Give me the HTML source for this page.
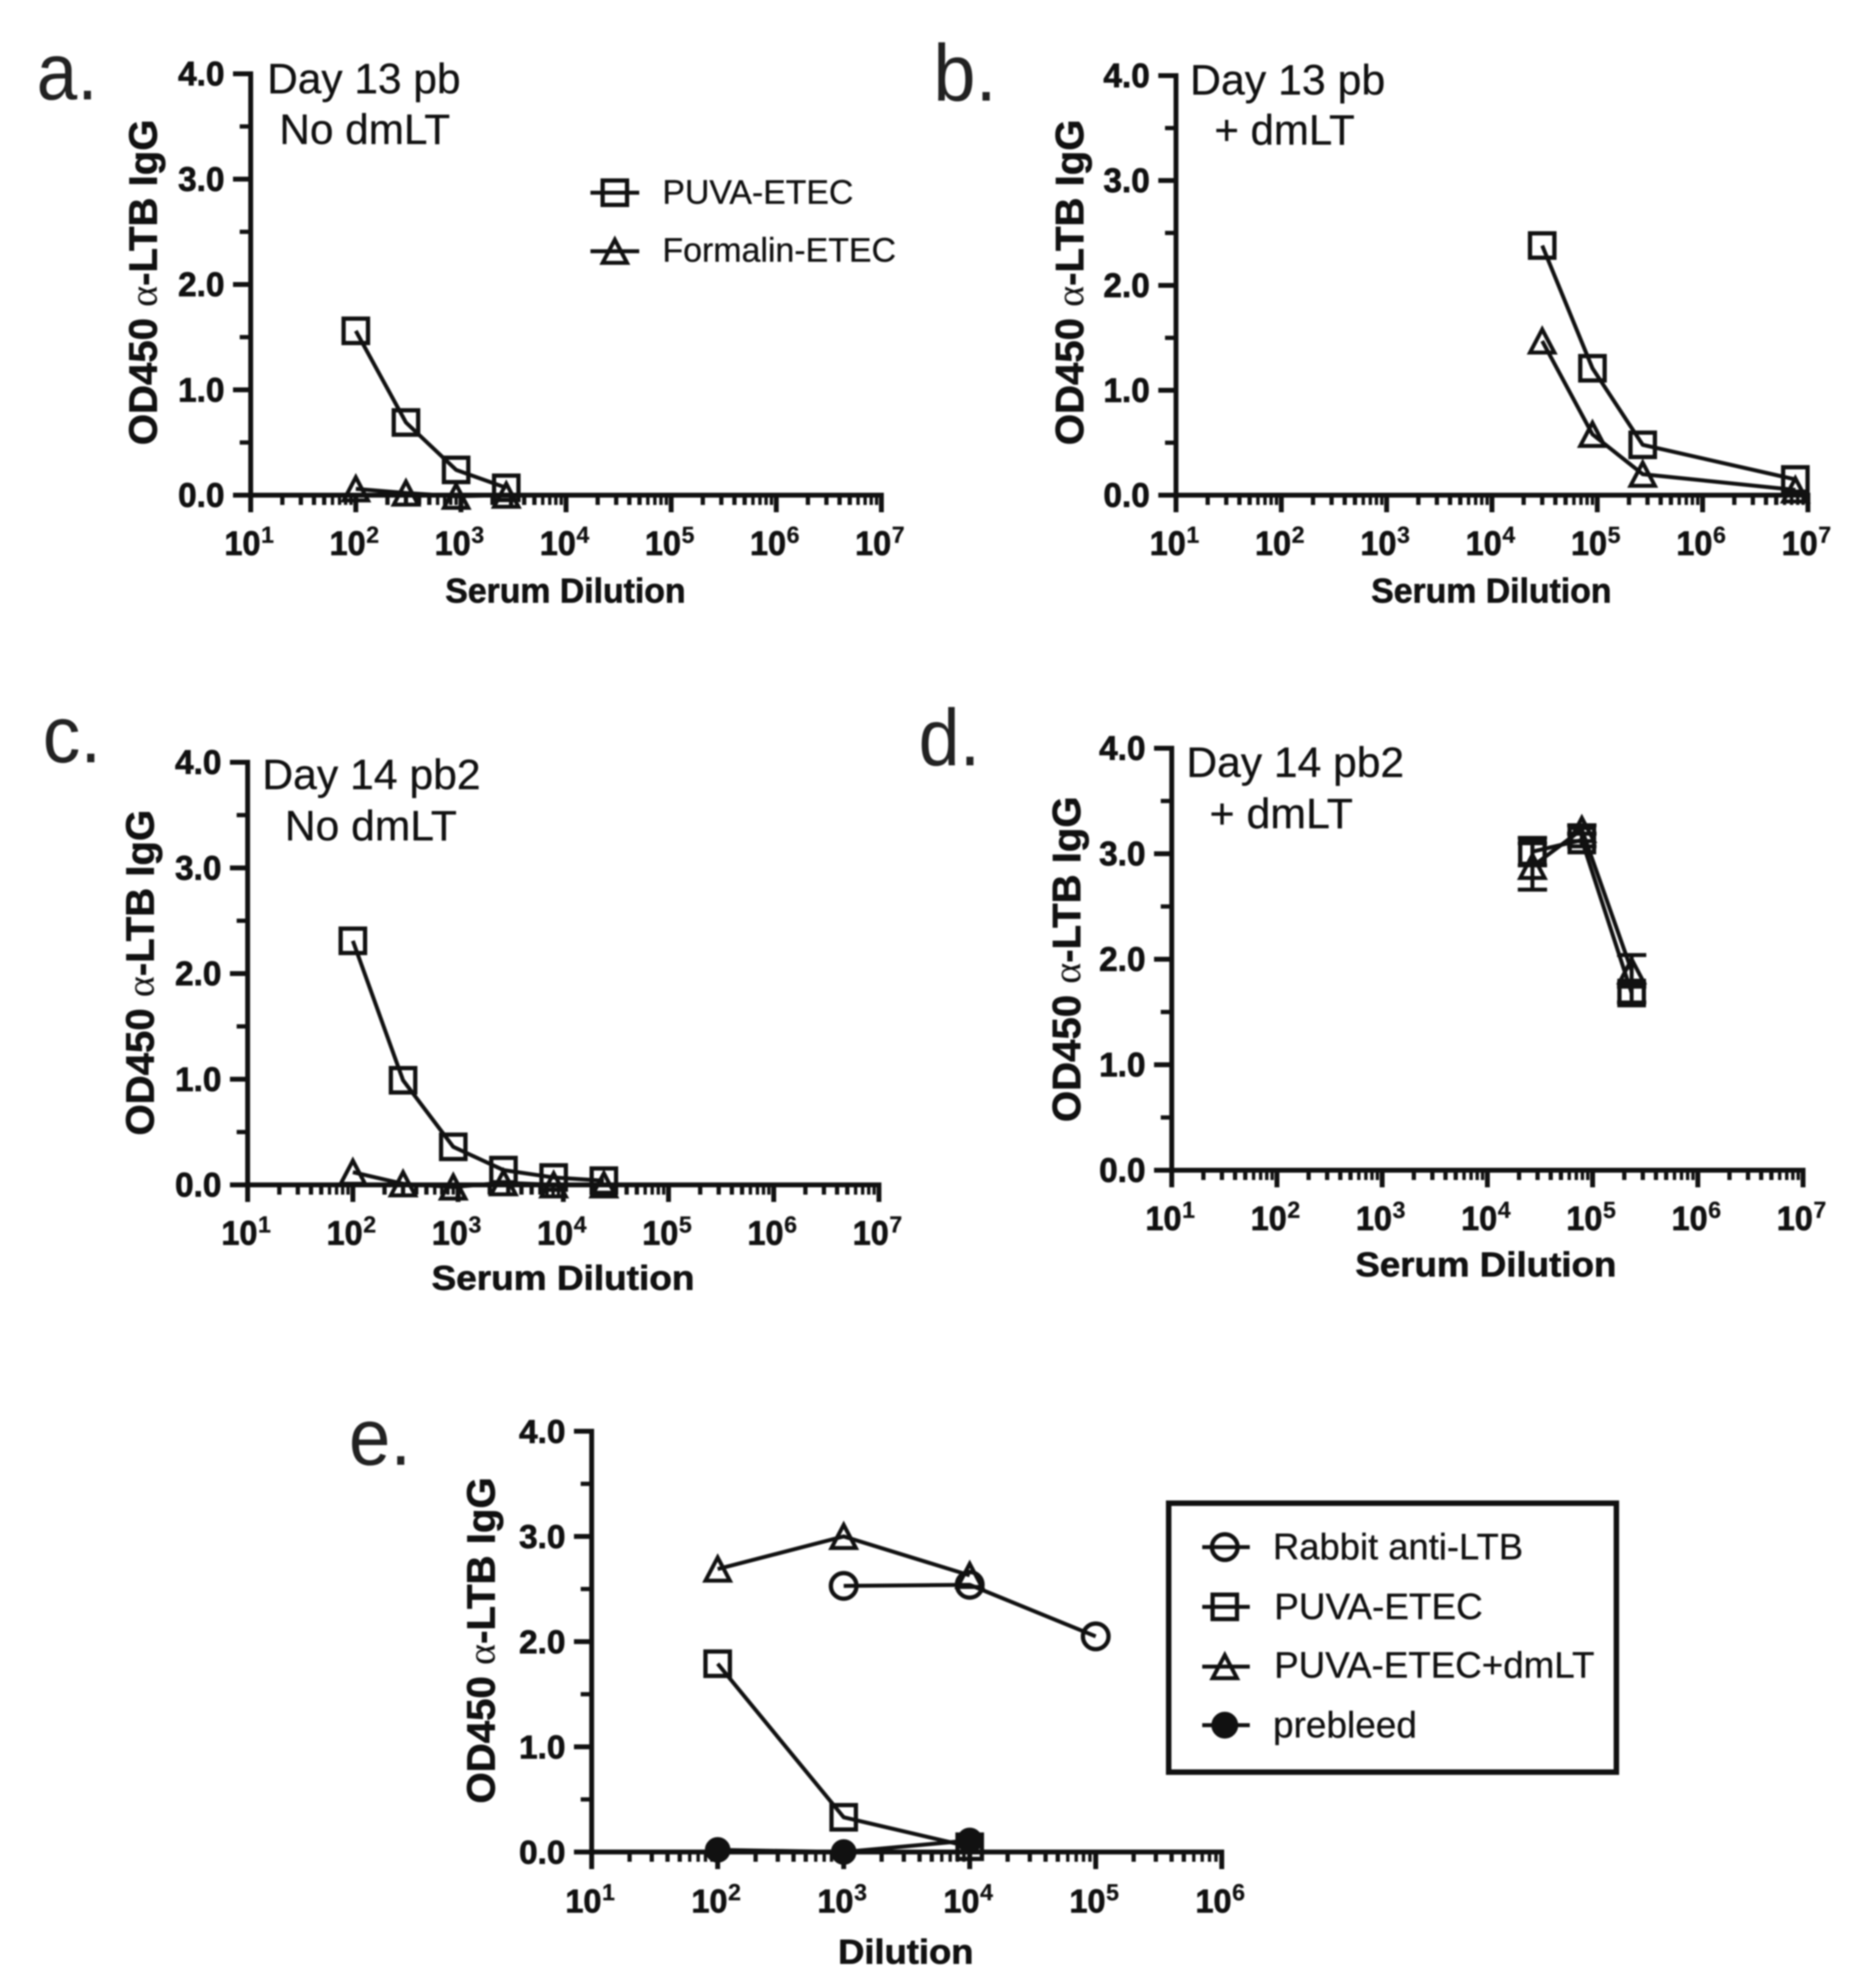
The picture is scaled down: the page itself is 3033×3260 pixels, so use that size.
<!DOCTYPE html>
<html lang="en">
<head>
<meta charset="utf-8">
<title>OD450 anti-LTB IgG dilution curves</title>
<style>
html,body{margin:0;padding:0;background:#fff;}
#figure{display:block;position:absolute;left:0;top:0;filter:blur(1.3px);}
text{font-family:"Liberation Sans",sans-serif;fill:#111;}
.letter{font-size:132px;fill:#222;}
.note{font-size:70px;stroke:#111;stroke-width:.5px;}
.legend-text{font-size:56px;stroke:#111;stroke-width:.5px;}
.legend-e{font-size:60px;}
.xtitle{font-size:57px;font-weight:bold;text-anchor:middle;stroke:#111;stroke-width:1px;}
.ytitle{font-size:65px;font-weight:bold;text-anchor:middle;stroke:#111;stroke-width:1px;}
.alpha{font-family:"Liberation Serif",serif;font-weight:normal;stroke-width:0;}
.tick{font-weight:bold;stroke:#111;stroke-width:1.2px;}
.sup{font-weight:bold;stroke:#111;stroke-width:.4px;}
</style>
</head>
<body>
<svg id="figure" xmlns="http://www.w3.org/2000/svg" width="3033" height="3260" viewBox="0 0 3033 3260">
  <rect x="0" y="0" width="3033" height="3260" fill="#fff"/>

  <text class="letter" x="60" y="163" textLength="100" lengthAdjust="spacingAndGlyphs">a.</text>
  <text class="letter" x="1530" y="165" textLength="104" lengthAdjust="spacingAndGlyphs">b.</text>
  <text class="letter" x="70" y="1250" textLength="96" lengthAdjust="spacingAndGlyphs">c.</text>
  <text class="letter" x="1506" y="1255" textLength="101" lengthAdjust="spacingAndGlyphs">d.</text>
  <text class="letter" x="572" y="2402" textLength="102" lengthAdjust="spacingAndGlyphs">e.</text>

  <text class="note" x="438" y="153" textLength="317" lengthAdjust="spacingAndGlyphs">Day 13 pb</text>
  <text class="note" x="458" y="236" textLength="280" lengthAdjust="spacingAndGlyphs">No dmLT</text>
  <text class="note" x="1951" y="155" textLength="320" lengthAdjust="spacingAndGlyphs">Day 13 pb</text>
  <text class="note" x="1991" y="237" textLength="230" lengthAdjust="spacingAndGlyphs">+ dmLT</text>
  <text class="note" x="430" y="1294" textLength="358" lengthAdjust="spacingAndGlyphs">Day 14 pb2</text>
  <text class="note" x="467" y="1378" textLength="282" lengthAdjust="spacingAndGlyphs">No dmLT</text>
  <text class="note" x="1945" y="1274" textLength="357" lengthAdjust="spacingAndGlyphs">Day 14 pb2</text>
  <text class="note" x="1983" y="1358" textLength="235" lengthAdjust="spacingAndGlyphs">+ dmLT</text>

  <text class="ytitle" transform="translate(257 463) rotate(-90)" textLength="534" lengthAdjust="spacingAndGlyphs">OD450 <tspan class="alpha">α</tspan>-LTB IgG</text>
  <text class="ytitle" transform="translate(1776 463) rotate(-90)" textLength="534" lengthAdjust="spacingAndGlyphs">OD450 <tspan class="alpha">α</tspan>-LTB IgG</text>
  <text class="ytitle" transform="translate(252 1595) rotate(-90)" textLength="534" lengthAdjust="spacingAndGlyphs">OD450 <tspan class="alpha">α</tspan>-LTB IgG</text>
  <text class="ytitle" transform="translate(1771 1573) rotate(-90)" textLength="534" lengthAdjust="spacingAndGlyphs">OD450 <tspan class="alpha">α</tspan>-LTB IgG</text>
  <text class="ytitle" transform="translate(811 2690) rotate(-90)" textLength="535" lengthAdjust="spacingAndGlyphs">OD450 <tspan class="alpha">α</tspan>-LTB IgG</text>

  <text class="xtitle" x="927" y="988" textLength="394" lengthAdjust="spacingAndGlyphs">Serum Dilution</text>
  <text class="xtitle" x="2445" y="988" textLength="394" lengthAdjust="spacingAndGlyphs">Serum Dilution</text>
  <text class="xtitle" x="923" y="2115" textLength="431" lengthAdjust="spacingAndGlyphs">Serum Dilution</text>
  <text class="xtitle" x="2436" y="2093" textLength="428" lengthAdjust="spacingAndGlyphs">Serum Dilution</text>
  <text class="xtitle" x="1485" y="3220" textLength="222" lengthAdjust="spacingAndGlyphs">Dilution</text>

  <g>
    <line x1="968" y1="316" x2="1048" y2="316" stroke="#111" stroke-width="6.5"/>
    <rect x="988" y="296" width="40" height="40" fill="none" stroke="#111" stroke-width="7"/>
    <text class="legend-text" x="1086" y="334" textLength="313" lengthAdjust="spacingAndGlyphs">PUVA-ETEC</text>
    <line x1="968" y1="412" x2="1048" y2="412" stroke="#111" stroke-width="6.5"/>
    <polygon points="1008,393 988,431 1028,431" fill="none" stroke="#111" stroke-width="6.5"/>
    <text class="legend-text" x="1086" y="429" textLength="383" lengthAdjust="spacingAndGlyphs">Formalin-ETEC</text>
  </g>

  <g>
    <rect x="1916" y="2465" width="734" height="441" fill="#fff" stroke="#111" stroke-width="9"/>
    <line x1="1971" y1="2537" x2="2049" y2="2537" stroke="#111" stroke-width="6.5"/>
    <circle cx="2008" cy="2537" r="21" fill="none" stroke="#111" stroke-width="7"/>
    <text class="legend-text legend-e" x="2087" y="2557" textLength="410" lengthAdjust="spacingAndGlyphs">Rabbit anti-LTB</text>
    <line x1="1971" y1="2635" x2="2049" y2="2635" stroke="#111" stroke-width="6.5"/>
    <rect x="1988" y="2615" width="40" height="40" fill="none" stroke="#111" stroke-width="7"/>
    <text class="legend-text legend-e" x="2089" y="2655" textLength="342" lengthAdjust="spacingAndGlyphs">PUVA-ETEC</text>
    <line x1="1971" y1="2733" x2="2049" y2="2733" stroke="#111" stroke-width="6.5"/>
    <polygon points="2008,2714 1988,2752 2028,2752" fill="none" stroke="#111" stroke-width="6.5"/>
    <text class="legend-text legend-e" x="2089" y="2751" textLength="525" lengthAdjust="spacingAndGlyphs">PUVA-ETEC+dmLT</text>
    <line x1="1971" y1="2829" x2="2049" y2="2829" stroke="#111" stroke-width="6.5"/>
    <circle cx="2008" cy="2829" r="21" fill="#111" stroke="#111" stroke-width="2"/>
    <text class="legend-text legend-e" x="2087" y="2849" textLength="236" lengthAdjust="spacingAndGlyphs">prebleed</text>
  </g>
</svg>

<script>
/* Y axis */
const yMajorTicks = [0, 1, 2, 3, 4];
const yMinorTicks = [0.5, 1.5, 2.5, 3.5];
const yTickLabels = ["0.0", "1.0", "2.0", "3.0", "4.0"];
/* X axis exponents */
const xExponents7 = [1, 2, 3, 4, 5, 6, 7];
const xExponents6 = [1, 2, 3, 4, 5, 6];

/* Panel a */
const aDilutions = [100, 300, 900, 2700];
const aPuva = [1.56, 0.69, 0.24, 0.07];
const aFormalin = [0.06, 0.02, -0.01, 0.0];
/* Panel b */
const bDilutions = [30000, 90000, 270000, 7600000];
const bPuva = [2.38, 1.21, 0.48, 0.15];
const bFormalin = [1.47, 0.58, 0.20, 0.05];
/* Panel c */
const cDilutions = [100, 300, 900, 2700, 8100, 24300];
const cPuva = [2.31, 0.99, 0.36, 0.14, 0.07, 0.04];
const cFormalin = [0.12, 0.01, -0.02, 0.02, 0.0, 0.0];
/* Panel d */
const dDilutions = [26800, 79000, 235000];
const dPuva = [3.02, 3.13, 1.68];
const dPuvaError = [0.13, 0.06, 0.09];
const dFormalin = [2.88, 3.23, 1.89];
const dFormalinError = [0.22, 0.04, 0.15];
/* Panel e */
const eRabbitDilutions = [1000, 10000, 100000];
const eRabbit = [2.53, 2.54, 2.05];
const ePuvaDilutions = [100, 1000, 10000];
const ePuva = [1.79, 0.33, 0.05];
const eDmltDilutions = [100, 1000, 10000];
const eDmlt = [2.69, 3.00, 2.63];
const ePrebleedDilutions = [100, 1000, 10000];
const ePrebleed = [0.02, 0.0, 0.11];

const NS = "http://www.w3.org/2000/svg";
const root = document.getElementById("figure");
const INK = "#111";

function make(tag, attrs, parent) {
  const el = document.createElementNS(NS, tag);
  for (const k in attrs) el.setAttribute(k, attrs[k]);
  parent.appendChild(el);
  return el;
}

function drawAxes(p, exps) {
  const g = make("g", {}, root);
  
  
  const sx = v => p.x0 + (Math.log10(v) - exps[0]) * (p.x1 - p.x0) / (exps[exps.length - 1] - exps[0]);
  const sy = v => p.y0 + (p.y4 - p.y0) * v / 4;

  const yAxis = make("line", {x1: p.x0, y1: sy(4) - 4, x2: p.x0, y2: p.y0 + 28, stroke: INK, "stroke-width": 8}, g);
  
  
  const xAxis = make("line", {x1: p.x0 - 29, y1: p.y0, x2: p.x1 + 4, y2: p.y0, stroke: INK, "stroke-width": 8}, g);
  
  

  yMajorTicks.forEach((v, i) => {
    const t = make("line", {x1: p.x0 - 29, y1: sy(v), x2: p.x0, y2: sy(v), stroke: INK, "stroke-width": 8}, g);
    
    
    const l = make("text", {class: "tick", "font-size": p.tickSize, x: p.x0 - 119, y: sy(v) + 19, textLength: 76, lengthAdjust: "spacingAndGlyphs"}, g);
    
    
    l.textContent = yTickLabels[i];
  });
  yMinorTicks.forEach(v => {
    const t = make("line", {x1: p.x0 - 18, y1: sy(v), x2: p.x0, y2: sy(v), stroke: INK, "stroke-width": 7}, g);
    
    
  });
  exps.forEach((e, i) => {
    const x = sx(Math.pow(10, e));
    const t = make("line", {x1: x, y1: p.y0, x2: x, y2: p.y0 + 28, stroke: INK, "stroke-width": 8}, g);
    
    
    const l = make("text", {class: "tick", "font-size": p.tickSize, x: x - 43, y: p.y0 + p.tickOffset, textLength: 59, lengthAdjust: "spacingAndGlyphs"}, g);
    
    
    l.textContent = "10";
    const s = make("text", {class: "sup", "font-size": 38, x: x + 17, y: p.y0 + p.tickOffset - 20}, g);
    
    
    s.textContent = String(e);
    if (i < exps.length - 1) {
      for (let m = 2; m <= 9; m++) {
        const mx = sx(m * Math.pow(10, e));
        const mt = make("line", {x1: mx, y1: p.y0, x2: mx, y2: p.y0 + 16, stroke: INK, "stroke-width": m < 6 ? 7 : 5.5}, g);
        
        
      }
    }
  });
  return {sx, sy};
}

function drawSeries(p, scale, name, shape, xs, ys, errs) {
  const g = make("g", {}, root);
  
  
  const pts = xs.map((x, i) => scale.sx(x) + "," + scale.sy(ys[i])).join(" ");
  const line = make("polyline", {points: pts, fill: "none", stroke: INK, "stroke-width": 6.5, "stroke-linejoin": "round"}, g);
  
  
  xs.forEach((x, i) => {
    const cx = scale.sx(x), cy = scale.sy(ys[i]);
    if (errs) {
      const top = scale.sy(ys[i] + errs[i]), bot = scale.sy(ys[i] - errs[i]);
      const err = make("path", {d: `M${cx - 24} ${top}H${cx + 24}M${cx} ${top}V${bot}M${cx - 24} ${bot}H${cx + 24}`, fill: "none", stroke: INK, "stroke-width": 6.5}, g);
      
      
    }
    let m;
    if (shape === "square") {
      m = make("rect", {x: cx - 20, y: cy - 20, width: 40, height: 40, fill: "none", stroke: INK, "stroke-width": 7}, g);
    } else if (shape === "triangle") {
      m = make("polygon", {points: `${cx},${cy - 19} ${cx - 20},${cy + 19} ${cx + 20},${cy + 19}`, fill: "none", stroke: INK, "stroke-width": 6.5}, g);
    } else if (shape === "circle") {
      m = make("circle", {cx: cx, cy: cy, r: 21, fill: "none", stroke: INK, "stroke-width": 7}, g);
    } else {
      m = make("circle", {cx: cx, cy: cy, r: 20, fill: INK, stroke: INK, "stroke-width": 2}, g);
    }
    
    
  });
}

const layoutA = {id: "panel-a", x0: 411, x1: 1445, y0: 812, y4: 121, tickSize: 56, tickOffset: 98};
const layoutB = {id: "panel-b", x0: 1928, x1: 2964, y0: 812, y4: 124, tickSize: 56, tickOffset: 98};
const layoutC = {id: "panel-c", x0: 406, x1: 1441, y0: 1943, y4: 1250, tickSize: 56, tickOffset: 98};
const layoutD = {id: "panel-d", x0: 1921, x1: 2956, y0: 1919, y4: 1227, tickSize: 56, tickOffset: 98};
const layoutE = {id: "panel-e", x0: 970, x1: 2003, y0: 3037, y4: 2347, tickSize: 54, tickOffset: 99};

const scaleA = drawAxes(layoutA, xExponents7);
drawSeries(layoutA, scaleA, "formalin", "triangle", aDilutions, aFormalin);
drawSeries(layoutA, scaleA, "puva", "square", aDilutions, aPuva);

const scaleB = drawAxes(layoutB, xExponents7);
drawSeries(layoutB, scaleB, "formalin", "triangle", bDilutions, bFormalin);
drawSeries(layoutB, scaleB, "puva", "square", bDilutions, bPuva);

const scaleC = drawAxes(layoutC, xExponents7);
drawSeries(layoutC, scaleC, "formalin", "triangle", cDilutions, cFormalin);
drawSeries(layoutC, scaleC, "puva", "square", cDilutions, cPuva);

const scaleD = drawAxes(layoutD, xExponents7);
drawSeries(layoutD, scaleD, "puva", "square", dDilutions, dPuva, dPuvaError);
drawSeries(layoutD, scaleD, "formalin", "triangle", dDilutions, dFormalin, dFormalinError);

const scaleE = drawAxes(layoutE, xExponents6);
drawSeries(layoutE, scaleE, "rabbit", "circle", eRabbitDilutions, eRabbit);
drawSeries(layoutE, scaleE, "puva", "square", ePuvaDilutions, ePuva);
drawSeries(layoutE, scaleE, "puva-dmlt", "triangle", eDmltDilutions, eDmlt);
drawSeries(layoutE, scaleE, "prebleed", "dot", ePrebleedDilutions, ePrebleed);
</script>
</body>
</html>
